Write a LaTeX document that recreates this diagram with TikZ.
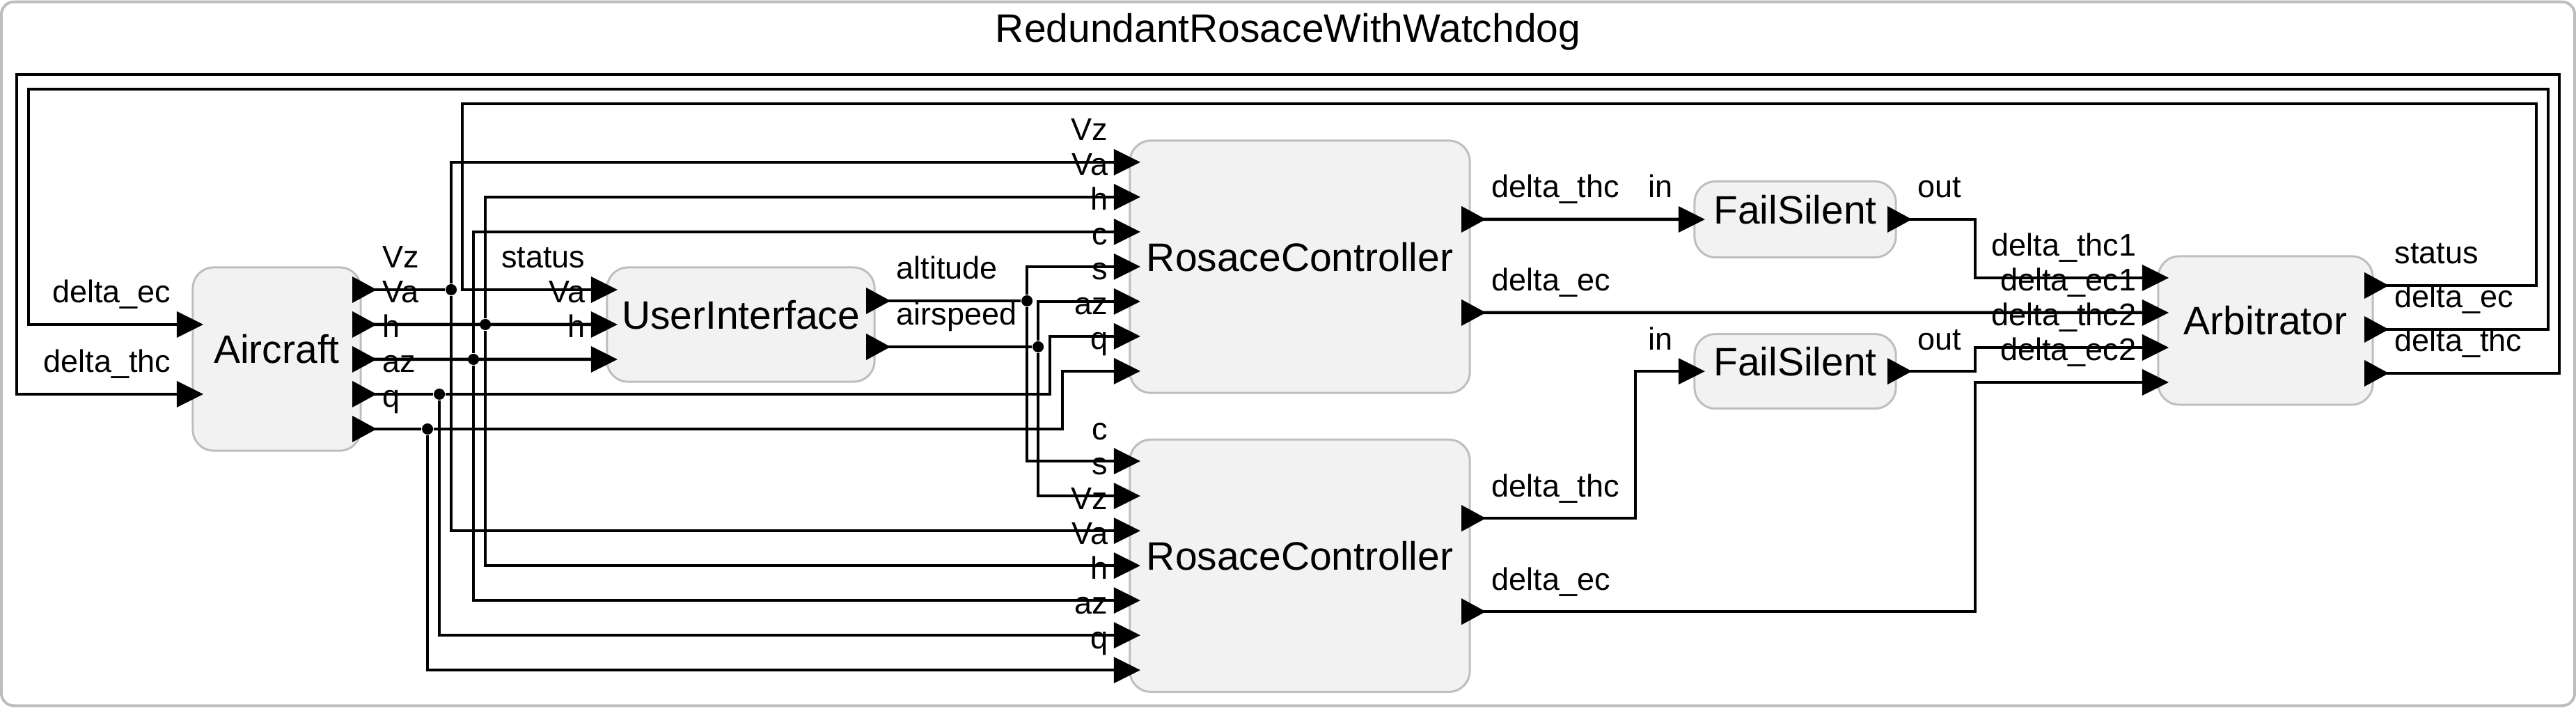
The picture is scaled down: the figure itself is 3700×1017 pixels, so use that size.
\documentclass[tikz,border=0pt]{standalone}
\usepackage{fontspec}
\setmainfont{Liberation Sans}
\usetikzlibrary{positioning, calc}
\definecolor{boxline}{RGB}{190,190,190}
\definecolor{boxfill}{RGB}{242,242,242}
\newcommand{\namefont}{\fontsize{16.2pt}{19pt}\selectfont}
\newcommand{\portfont}{\fontsize{12.8pt}{15pt}\selectfont}
\tikzset{
  frame/.style={draw=boxline, line width=1.14pt, rounded corners=0.18cm,
                inner sep=0pt, outer sep=0pt},
  block/.style={draw=boxline, fill=boxfill, line width=0.85pt, rounded corners=0.3cm,
                inner sep=0pt, outer sep=0pt, font=\namefont,
                text height=0.4cm, text depth=0.28cm},
  wire/.style={line width=1.28pt},
  portlabel/.style={font=\portfont, inner sep=0pt},
  dot/.style={circle, fill, inner sep=0pt, minimum size=0.16cm},
}
% input ports: triangle into the block, name above on the left
\newcommand{\inports}[2]{%
  \foreach \k/\py/\ptxt in {#2} {
    \coordinate (#1-i\k) at ($(#1.north west)+(0,\py)$);
    \fill (#1-i\k) ++(-23,-19) -- ++(38,19) -- ++(-38,19) -- cycle;
    \node[portlabel, anchor=base east] at ($(#1-i\k)+(-31,-31)$) {\ptxt};
  }}
% output ports: triangle out of the block, name above on the right
\newcommand{\outports}[2]{%
  \foreach \k/\py/\ptxt in {#2} {
    \coordinate (#1-o\k) at ($(#1.north east)+(0,\py)$);
    \fill (#1-o\k) ++(-12,-19) -- ++(35,19) -- ++(-35,19) -- cycle;
    \node[portlabel, anchor=base west] at ($(#1-o\k)+(31,-31)$) {\ptxt};
  }}

\begin{document}
\begin{tikzpicture}[x=0.01cm, y=-0.01cm]
  \useasboundingbox (0,0) rectangle (3700,1017);
  \node[frame, minimum width=36.94cm, minimum height=10.1cm] (outer) at (1850,508) {};
  \node[font=\namefont, anchor=base, inner sep=0pt] (title) at ($(outer.north)+(0,58)$)
    {RedundantRosaceWithWatchdog};

  % reactors
  \node[block, minimum width=2.41cm, minimum height=2.63cm] (ac) at (397.5,515.5) {Aircraft};
  \node[block, minimum width=3.84cm, minimum height=1.64cm] (ui) at (1064,466) {UserInterface};
  \node[block, minimum width=4.88cm, minimum height=3.62cm] (rc1) at (1867,383) {RosaceController};
  \node[block, minimum width=4.88cm, minimum height=3.62cm, below=0.67cm of rc1] (rc2) {RosaceController};
  \node[block, minimum width=2.89cm, minimum height=1.09cm] (fs1) at (2578.5,315) {FailSilent};
  \node[block, minimum width=2.89cm, minimum height=1.07cm, below=1.1cm of fs1] (fs2) {FailSilent};
  \node[block, minimum width=3.08cm, minimum height=2.13cm] (arb) at (3254,474.5) {Arbitrator};

  % ports
  \inports{ac}{1/82/delta\_ec, 2/182/delta\_thc}
  \outports{ac}{1/32/Vz, 2/82/Va, 3/132/h, 4/182/az, 5/232/q}
  \inports{ui}{1/32/status, 2/82/Va, 3/132/h}
  \outports{ui}{1/48/altitude, 2/114/airspeed}
  \inports{rc1}{1/31/Vz, 2/81/Va, 3/131/h, 4/181/c, 5/231/s, 6/281/az, 7/331/q}
  \outports{rc1}{1/113/delta\_thc, 2/247/delta\_ec}
  \inports{rc2}{1/31/c, 2/81/s, 3/131/Vz, 4/181/Va, 5/231/h, 6/281/az, 7/331/q}
  \outports{rc2}{1/113/delta\_thc, 2/247/delta\_ec}
  \inports{fs1}{1/54.5/in}
  \outports{fs1}{1/54.5/out}
  \inports{fs2}{1/53.5/in}
  \outports{fs2}{1/53.5/out}
  \inports{arb}{1/31/delta\_thc1, 2/81/delta\_ec1, 3/131/delta\_thc2, 4/181/delta\_ec2}
  \outports{arb}{1/42/status, 2/105/delta\_ec, 3/168/delta\_thc}

  % fan-out points
  \node[dot] (jVz) at ($(ac-o1)+(130,0)$) {};
  \node[dot] (jVa) at ($(ac-o2)+(179,0)$) {};
  \node[dot] (jh)  at ($(ac-o3)+(162,0)$) {};
  \node[dot] (jaz) at ($(ac-o4)+(113,0)$) {};
  \node[dot] (jq)  at ($(ac-o5)+(96,0)$) {};
  \node[dot] (jalt) at ($(ui-o1)+(219,0)$) {};
  \node[dot] (jas)  at ($(ui-o2)+(235,0)$) {};

  % aircraft outputs
  \draw[wire] (ac-o1) -- (jVz);
  \draw[wire] (jVz) |- (rc1-i1);
  \draw[wire] (jVz) |- (rc2-i3);
  \draw[wire] (ac-o2) -- (ui-i2);
  \draw[wire] (jVa) |- (rc1-i2);
  \draw[wire] (jVa) |- (rc2-i4);
  \draw[wire] (ac-o3) -- (ui-i3);
  \draw[wire] (jh) |- (rc1-i3);
  \draw[wire] (jh) |- (rc2-i5);
  \draw[wire] (ac-o4) -- (jaz);
  \draw[wire] (jaz) -| ($(rc1-i6)+(-115,0)$) -- (rc1-i6);
  \draw[wire] (jaz) |- (rc2-i6);
  \draw[wire] (ac-o5) -- (jq);
  \draw[wire] (jq) -| ($(rc1-i7)+(-97,0)$) -- (rc1-i7);
  \draw[wire] (jq) |- (rc2-i7);

  % user interface outputs
  \draw[wire] (ui-o1) -- (jalt);
  \draw[wire] (jalt) |- (rc1-i4);
  \draw[wire] (jalt) |- (rc2-i1);
  \draw[wire] (ui-o2) -- (jas);
  \draw[wire] (jas) |- (rc1-i5);
  \draw[wire] (jas) |- (rc2-i2);

  % controllers to arbitrator
  \draw[wire] (rc1-o1) -- (fs1-i1);
  \draw[wire] (rc1-o2) -- (arb-i2);
  \draw[wire] (fs1-o1) -- ++(114,0) |- (arb-i1);
  \draw[wire] (rc2-o1) -- ++(238,0) |- (fs2-i1);
  \draw[wire] (fs2-o1) -- ++(114,0) |- (arb-i3);
  \draw[wire] (rc2-o2) -- ++(726,0) |- (arb-i4);

  % feedback loops
  \draw[wire] (arb-o1) -- ++(235,0) |- ($(ui-i1)+(-208,-267)$) |- (ui-i1);
  \draw[wire] (arb-o2) -- ++(252,0) |- ($(ac-i1)+(-236,-338)$) |- (ac-i1);
  \draw[wire] (arb-o3) -- ++(268,0) |- ($(ac-i2)+(-253,-459)$) |- (ac-i2);
\end{tikzpicture}
\end{document}
